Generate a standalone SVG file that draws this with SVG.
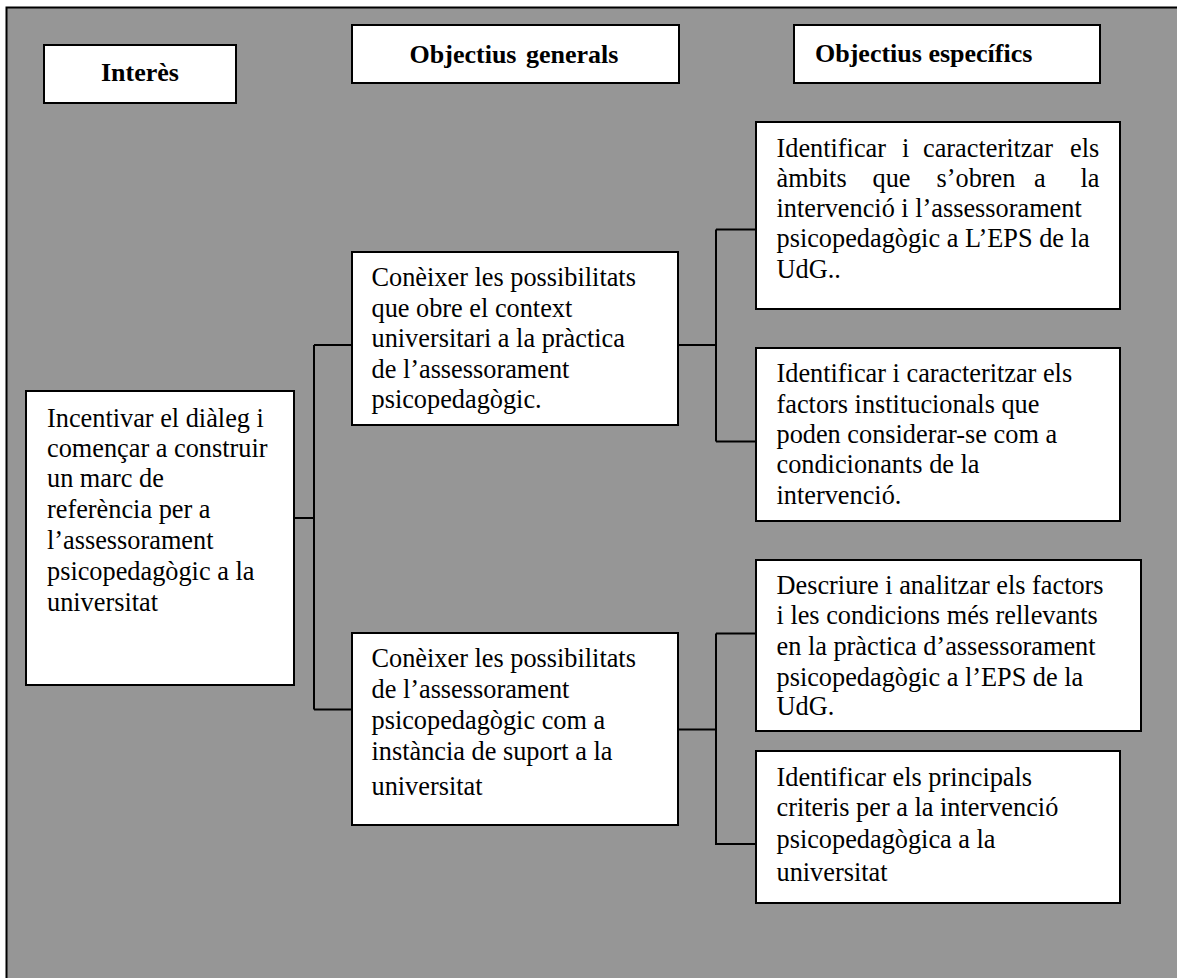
<svg xmlns="http://www.w3.org/2000/svg" width="1177" height="978" viewBox="0 0 1177 978">
  <style>
    .frame { fill: #969696; stroke: #000; stroke-width: 2; }
    .box { fill: #fff; stroke: #000; stroke-width: 2; }
    .link { fill: none; stroke: #000; stroke-width: 2; }
    .head { font-family: "Liberation Serif", "Times New Roman", serif; font-size: 26px; font-weight: bold; fill: #000; }
    .body { font-family: "Liberation Serif", "Times New Roman", serif; font-size: 26.3px; fill: #000; }
  </style>

  <rect width="1177" height="978" fill="#fff"/>
  <rect class="frame" x="6.5" y="7.5" width="1190" height="990"/>

  <!-- connectors -->
  <g id="connectors">
    <path class="link" d="M294 518H314M314 345V709.5M314 345H352M314 709.5H352"/>
    <path class="link" d="M678 345H716M716 229.5V441.5M716 229.5H756M716 441.5H756"/>
    <path class="link" d="M678 729.5H716M716 633.5V845M716 633.5H756M716 844H756"/>
  </g>

  <!-- column headers -->
  <g id="head-interes">
    <rect class="box" x="44" y="45" width="192" height="58"/>
    <text class="head" x="140" y="81" text-anchor="middle">Interès</text>
  </g>
  <g id="head-generals">
    <rect class="box" x="352" y="25" width="327" height="58"/>
    <text class="head" x="514" y="63" text-anchor="middle" word-spacing="3">Objectius generals</text>
  </g>
  <g id="head-especifics">
    <rect class="box" x="794" y="25" width="306" height="58"/>
    <text class="head" x="815" y="62">Objectius específics</text>
  </g>

  <!-- interest -->
  <g id="interes">
    <rect class="box" x="26" y="391" width="268" height="294"/>
    <text class="body">
      <tspan x="47" y="427">Incentivar el diàleg i</tspan>
      <tspan x="47" y="457">començar a construir</tspan>
      <tspan x="47" y="487">un marc de</tspan>
      <tspan x="47" y="518">referència per a</tspan>
      <tspan x="47" y="548.5">l’assessorament</tspan>
      <tspan x="47" y="580">psicopedagògic a la</tspan>
      <tspan x="47" y="611">universitat</tspan>
    </text>
  </g>

  <!-- general objectives -->
  <g id="general-1">
    <rect class="box" x="352" y="252" width="326" height="173"/>
    <text class="body">
      <tspan x="371.5" y="286">Conèixer les possibilitats</tspan>
      <tspan x="371.5" y="316.5">que obre el context</tspan>
      <tspan x="371.5" y="347">universitari a la pràctica</tspan>
      <tspan x="371.5" y="377.5">de l’assessorament</tspan>
      <tspan x="371.5" y="408">psicopedagògic.</tspan>
    </text>
  </g>
  <g id="general-2">
    <rect class="box" x="352" y="633" width="326" height="192"/>
    <text class="body">
      <tspan x="371.5" y="667">Conèixer les possibilitats</tspan>
      <tspan x="371.5" y="698">de l’assessorament</tspan>
      <tspan x="371.5" y="729">psicopedagògic com a</tspan>
      <tspan x="371.5" y="759.5">instància de suport a la</tspan>
      <tspan x="371.5" y="795">universitat</tspan>
    </text>
  </g>

  <!-- specific objectives -->
  <g id="specific-1">
    <rect class="box" x="756" y="122" width="364" height="187"/>
    <text class="body">
      <tspan x="776.5" y="157">Identificar</tspan><tspan x="902" y="157">i</tspan><tspan x="923" y="157">caracteritzar</tspan><tspan x="1070" y="157">els</tspan>
      <tspan x="776.5" y="187">àmbits</tspan><tspan x="872.5" y="187">que</tspan><tspan x="936.5" y="187">s’obren</tspan><tspan x="1034" y="187">a</tspan><tspan x="1080.5" y="187">la</tspan>
      <tspan x="776.5" y="217">intervenció i l’assessorament</tspan>
      <tspan x="776.5" y="247">psicopedagògic a L’EPS de la</tspan>
      <tspan x="776.5" y="277.5">UdG..</tspan>
    </text>
  </g>
  <g id="specific-2">
    <rect class="box" x="756" y="348" width="364" height="173"/>
    <text class="body">
      <tspan x="776.5" y="382">Identificar i caracteritzar els</tspan>
      <tspan x="776.5" y="413">factors institucionals que</tspan>
      <tspan x="776.5" y="443">poden considerar-se com a</tspan>
      <tspan x="776.5" y="473">condicionants de la</tspan>
      <tspan x="776.5" y="504">intervenció.</tspan>
    </text>
  </g>
  <g id="specific-3">
    <rect class="box" x="756" y="560" width="385" height="171"/>
    <text class="body">
      <tspan x="776.5" y="594">Descriure i analitzar els factors</tspan>
      <tspan x="776.5" y="623.5">i les condicions més rellevants</tspan>
      <tspan x="776.5" y="655">en la pràctica d’assessorament</tspan>
      <tspan x="776.5" y="685.5">psicopedagògic a l’EPS de la</tspan>
      <tspan x="776.5" y="715">UdG.</tspan>
    </text>
  </g>
  <g id="specific-4">
    <rect class="box" x="756" y="751" width="364" height="152"/>
    <text class="body">
      <tspan x="776.5" y="785.5">Identificar els principals</tspan>
      <tspan x="776.5" y="815.5">criteris per a la intervenció</tspan>
      <tspan x="776.5" y="848">psicopedagògica a la</tspan>
      <tspan x="776.5" y="881">universitat</tspan>
    </text>
  </g>
</svg>
